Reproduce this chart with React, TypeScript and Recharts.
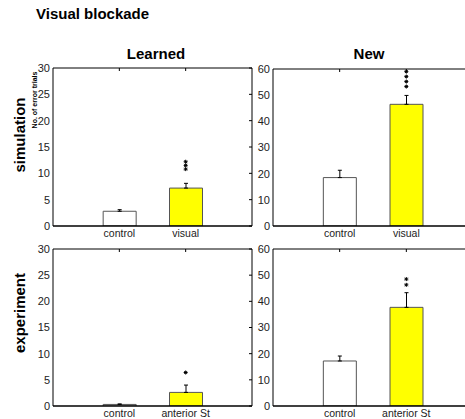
import {
  Bar,
  Cell,
  ComposedChart,
  ErrorBar,
  ReferenceDot,
  XAxis,
  YAxis,
} from "recharts";

// categories
const SIM_CATEGORIES = ["control", "visual"];
const EXP_CATEGORIES = ["control", "anterior St"];

// no. of error trials (mean) and upper error
const SIM_LEARNED = [2.8, 7.2];
const SIM_LEARNED_ERR = [0.3, 0.9];
const SIM_NEW = [18.5, 46.5];
const SIM_NEW_ERR = [2.8, 3.4];
const EXP_LEARNED = [0.3, 2.6];
const EXP_LEARNED_ERR = [0.1, 1.4];
const EXP_NEW = [17.2, 37.7];
const EXP_NEW_ERR = [1.9, 5.6];

// significance stars (y value of each star)
const SIM_LEARNED_STARS = [[], [12.2, 11.5, 10.8]];
const SIM_NEW_STARS = [[], [59.0, 57.1, 55.2, 53.3]];
const EXP_LEARNED_STARS = [[], [6.4]];
const EXP_NEW_STARS = [[], [48.5, 46.3]];

const LEARNED_TICKS = [0, 5, 10, 15, 20, 25, 30];
const NEW_TICKS = [0, 10, 20, 30, 40, 50, 60];

const FILLS = ["#ffffff", "#ffff00"];
const FONT = '"Liberation Sans", Arial, Helvetica, sans-serif';

function Asterisk(props: any) {
  const { cx, cy } = props;
  const r = 2;
  const d = r * 0.7;
  return (
    <path
      d={`M${cx - r},${cy}H${cx + r}M${cx},${cy - r}V${cy + r}M${cx - d},${cy - d}L${cx + d},${cy + d}M${cx - d},${cy + d}L${cx + d},${cy - d}`}
      stroke="#000"
      strokeWidth={1}
      fill="none"
    />
  );
}

interface PanelProps {
  left: number;
  top: number;
  plotWidth: number;
  visibleWidth?: number; // the right panels run past the edge of the figure
  plotHeight: number;
  categories: string[];
  values: number[];
  errors: number[];
  stars: number[][];
  ticks: number[];
}

function Panel({
  left,
  top,
  plotWidth,
  visibleWidth,
  plotHeight,
  categories,
  values,
  errors,
  stars,
  ticks,
}: PanelProps) {
  const data = categories.map((name, i) => ({
    name,
    value: values[i],
    err: [0, errors[i]],
  }));
  const yMax = ticks[ticks.length - 1];
  const shown = visibleWidth ?? plotWidth;
  const cut = plotWidth - shown;
  const ml = 40; // room for y tick labels
  const mt = 6;
  const mr = cut > 0 ? 0 : 6;
  const mb = 22;
  const pad = plotWidth / 6;
  const padding = { left: pad, right: pad - cut };
  const w = ml + shown + mr;
  const h = mt + plotHeight + mb;
  const axisStyle = { stroke: "#000", strokeWidth: 1 };

  return (
    <div style={{ position: "absolute", left: left - ml, top: top - mt, width: w, height: h }}>
      <ComposedChart
        width={w}
        height={h}
        data={data}
        margin={{ top: mt, right: mr, left: ml - 30, bottom: 0 }}
      >
        <XAxis
          dataKey="name"
          interval={0}
          padding={padding}
          height={mb}
          tickLine={false}
          tickSize={0}
          tickMargin={4}
          axisLine={{ stroke: "#000", strokeWidth: 1.5 }}
          tick={{ fontSize: 10.5, fill: "#222", fontFamily: FONT }}
        />
        <XAxis
          xAxisId="top"
          dataKey="name"
          orientation="top"
          mirror
          interval={0}
          padding={padding}
          tickSize={3}
          tickFormatter={() => ""}
          axisLine={axisStyle}
          tickLine={axisStyle}
        />
        <YAxis
          domain={[0, yMax]}
          ticks={ticks}
          interval={0}
          width={30}
          tickLine={false}
          tickSize={0}
          tickMargin={3}
          axisLine={axisStyle}
          tick={{ fontSize: 11, fill: "#222", fontFamily: FONT }}
          allowDataOverflow
        />
        {cut > 0 ? null : (
          <YAxis
            yAxisId="right"
            orientation="right"
            mirror
            width={1}
            domain={[0, yMax]}
            ticks={ticks}
            interval={0}
            tickSize={3}
            tickFormatter={() => ""}
            axisLine={axisStyle}
            tickLine={axisStyle}
            allowDataOverflow
          />
        )}
        <Bar dataKey="value" barSize={33} stroke="#555" strokeWidth={1} isAnimationActive={false}>
          {data.map((_, i) => (
            <Cell key={i} fill={FILLS[i]} />
          ))}
          <ErrorBar dataKey="err" width={2} stroke="#000" strokeWidth={1} isAnimationActive={false} />
        </Bar>
        {stars.map((list, i) =>
          list.map((y, j) => (
            <ReferenceDot
              key={`${i}-${j}`}
              x={categories[i]}
              y={y}
              r={2}
              ifOverflow="visible"
              shape={Asterisk}
            />
          ))
        )}
      </ComposedChart>
    </div>
  );
}

export default function App() {
  return (
    <div
      style={{
        position: "fixed",
        left: 0,
        top: 0,
        width: 465,
        height: 419,
        overflow: "hidden",
        background: "#fff",
        fontFamily: FONT,
      }}
    >
      <Panel
        left={53}
        top={68}
        plotWidth={199}
        plotHeight={158}
        categories={SIM_CATEGORIES}
        values={SIM_LEARNED}
        errors={SIM_LEARNED_ERR}
        stars={SIM_LEARNED_STARS}
        ticks={LEARNED_TICKS}
      />
      <Panel
        left={273}
        top={69}
        plotWidth={200}
        visibleWidth={192}
        plotHeight={157}
        categories={SIM_CATEGORIES}
        values={SIM_NEW}
        errors={SIM_NEW_ERR}
        stars={SIM_NEW_STARS}
        ticks={NEW_TICKS}
      />
      <Panel
        left={53}
        top={249}
        plotWidth={199}
        plotHeight={157}
        categories={EXP_CATEGORIES}
        values={EXP_LEARNED}
        errors={EXP_LEARNED_ERR}
        stars={EXP_LEARNED_STARS}
        ticks={LEARNED_TICKS}
      />
      <Panel
        left={273}
        top={249}
        plotWidth={200}
        visibleWidth={192}
        plotHeight={157}
        categories={EXP_CATEGORIES}
        values={EXP_NEW}
        errors={EXP_NEW_ERR}
        stars={EXP_NEW_STARS}
        ticks={NEW_TICKS}
      />
      <svg
        width={465}
        height={419}
        style={{ position: "absolute", left: 0, top: 0, pointerEvents: "none" }}
        fontFamily={FONT}
        fontWeight="bold"
      >
        <text x={36} y={19} fontSize={15}>Visual blockade</text>
        <text x={156} y={59} fontSize={15} textAnchor="middle">Learned</text>
        <text x={369} y={59} fontSize={15} textAnchor="middle">New</text>
        <text x={25} y={135} fontSize={15} textAnchor="middle" transform="rotate(-90 25 135)">
          simulation
        </text>
        <text x={25} y={313} fontSize={15} textAnchor="middle" transform="rotate(-90 25 313)">
          experiment
        </text>
        <text x={37} y={100} fontSize={7} textAnchor="middle" transform="rotate(-90 37 100)">
          No. of error trials
        </text>
      </svg>
    </div>
  );
}
